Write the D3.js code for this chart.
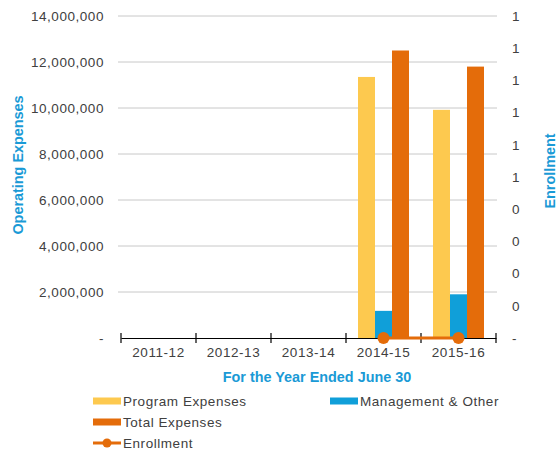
<!DOCTYPE html>
<html>
<head>
<meta charset="utf-8">
<script src="https://cdn.jsdelivr.net/npm/d3@7/dist/d3.min.js"></script>
<style>
  html, body { margin: 0; padding: 0; background: #fff; }
  svg { display: block; }
  text { font-family: "Liberation Sans", Arial, sans-serif; }
</style>
</head>
<body>
<div id="chart"></div>
<script>
// Fiscal years on the category axis
const years = ["2011-12", "2012-13", "2013-14", "2014-15", "2015-16"];
// Operating expense series (null = no data reported)
const programExpenses = [null, null, null, 11350000, 9920000];
const managementOther = [null, null, null, 1180000, 1900000];
const totalExpenses   = [null, null, null, 12500000, 11800000];
// Enrollment (right axis)
const enrollment = [null, null, null, 0, 0];
// Axis ticks
const leftTicks = [0, 2000000, 4000000, 6000000, 8000000, 10000000, 12000000, 14000000];
const rightTicks = [0, 0.1, 0.2, 0.3, 0.4, 0.5, 0.6, 0.7, 0.8, 0.9, 1.0];

const seriesNames = ["Program Expenses", "Management & Other", "Total Expenses"];
const seriesColors = ["#fdc94f", "#109fd9", "#e46c0a"];
const lineColor = "#e46c0a";
const titleColor = "#1a9ad6";
const textColor = "#404040";
const labelFont = "Liberation Sans, Arial, sans-serif";
const labelSize = 13.5;
const labelSpacing = "0.55px";

const W = 557, H = 455;
const plot = { left: 121, right: 496, top: 16, bottom: 338 };

const svg = d3.select("#chart").append("svg").attr("width", W).attr("height", H);

const x = d3.scaleBand().domain(years).range([plot.left, plot.right]).paddingInner(0).paddingOuter(0);
const xInner = d3.scaleBand().domain(seriesNames).range([12, x.bandwidth() - 12]).paddingInner(0);
const y = d3.scaleLinear().domain([0, 14000000]).range([plot.bottom, plot.top]);
const y2 = d3.scaleLinear().domain([0, 1]).range([plot.bottom, plot.top]);

function styleLabels(sel) {
  sel.attr("font-size", labelSize).attr("fill", textColor)
    .attr("font-family", labelFont).attr("letter-spacing", labelSpacing);
}

// Horizontal gridlines
svg.append("g")
  .selectAll("line")
  .data(leftTicks.filter(d => d > 0))
  .join("line")
  .attr("x1", 118).attr("x2", 497)
  .attr("y1", d => y(d)).attr("y2", d => y(d))
  .attr("stroke", "#c8c8c8").attr("stroke-width", 1);

// Left axis labels
const fmt = d3.format(",");
const leftAxis = d3.axisLeft(y).tickValues(leftTicks).tickSize(0).tickPadding(0)
  .tickFormat(d => d === 0 ? "-" : fmt(d));
const gL = svg.append("g").attr("transform", "translate(104,0)").call(leftAxis);
gL.select(".domain").remove();
styleLabels(gL.selectAll("text"));

// Right axis labels (enrollment)
const rightAxis = d3.axisRight(y2).tickValues(rightTicks).tickSize(0).tickPadding(0)
  .tickFormat(d => d === 0 ? "-" : d3.format(".0f")(d));
const gR = svg.append("g").attr("transform", "translate(512,0)").call(rightAxis);
gR.select(".domain").remove();
styleLabels(gR.selectAll("text"));

// Bars
const seriesData = [programExpenses, managementOther, totalExpenses];
seriesData.forEach((vals, si) => {
  svg.append("g")
    .selectAll("rect")
    .data(years.map((yr, i) => ({ yr, v: vals[i] })).filter(d => d.v != null))
    .join("rect")
    .attr("x", d => x(d.yr) + xInner(seriesNames[si]))
    .attr("width", xInner.bandwidth())
    .attr("y", d => y(d.v))
    .attr("height", d => y(0) - y(d.v))
    .attr("fill", seriesColors[si]);
});

// Category axis
const xAxis = d3.axisBottom(x).tickSize(0).tickPadding(9);
const gX = svg.append("g").attr("transform", `translate(0,${plot.bottom})`).call(xAxis);
gX.select(".domain").attr("stroke", "#000").attr("stroke-width", 1.2);
styleLabels(gX.selectAll("text"));
// Tick marks on category boundaries
const bounds = years.map(d => x(d)).concat([x(years[years.length - 1]) + x.bandwidth()]);
gX.selectAll(".bound").data(bounds).join("line").attr("class", "bound")
  .attr("x1", d => d).attr("x2", d => d).attr("y1", -5).attr("y2", 5)
  .attr("stroke", "#000").attr("stroke-width", 1.2);

// Enrollment line
const enrollPts = years.map((yr, i) => ({ yr, v: enrollment[i] })).filter(d => d.v != null);
const line = d3.line().x(d => x(d.yr) + x.bandwidth() / 2).y(d => y2(d.v));
svg.append("path").datum(enrollPts).attr("d", line)
  .attr("fill", "none").attr("stroke", lineColor).attr("stroke-width", 3);
svg.append("g").selectAll("circle").data(enrollPts).join("circle")
  .attr("cx", d => x(d.yr) + x.bandwidth() / 2).attr("cy", d => y2(d.v))
  .attr("r", 6).attr("fill", lineColor);

// Axis titles
const titleFont = "Lato, 'Open Sans', sans-serif";
svg.append("text").attr("x", 317).attr("y", 382).attr("text-anchor", "middle")
  .attr("font-family", titleFont).attr("font-weight", "bold").attr("font-size", 14.4)
  .attr("fill", titleColor).text("For the Year Ended June 30");
svg.append("text").attr("transform", "translate(23,165) rotate(-90)").attr("text-anchor", "middle")
  .attr("font-family", titleFont).attr("font-weight", "bold").attr("font-size", 14.4)
  .attr("fill", titleColor).text("Operating Expenses");
svg.append("text").attr("transform", "translate(555,171) rotate(-90)").attr("text-anchor", "middle")
  .attr("font-family", titleFont).attr("font-weight", "bold").attr("font-size", 14.4)
  .attr("fill", titleColor).text("Enrollment");

// Legend
const legend = svg.append("g");
const legendItems = [
  { name: "Program Expenses", color: seriesColors[0], x: 93, y: 401, type: "bar" },
  { name: "Management & Other", color: seriesColors[1], x: 330, y: 401, type: "bar" },
  { name: "Total Expenses", color: seriesColors[2], x: 93, y: 422, type: "bar" },
  { name: "Enrollment", color: lineColor, x: 93, y: 443, type: "line" }
];
legendItems.forEach(it => {
  const g = legend.append("g").attr("transform", `translate(${it.x},${it.y})`);
  if (it.type === "bar") {
    g.append("rect").attr("x", 0).attr("y", -3.5).attr("width", 28).attr("height", 7).attr("fill", it.color);
  } else {
    g.append("line").attr("x1", 0).attr("x2", 28).attr("y1", 0).attr("y2", 0)
      .attr("stroke", it.color).attr("stroke-width", 3);
    g.append("circle").attr("cx", 14).attr("cy", 0).attr("r", 4.5).attr("fill", it.color);
  }
  const t = g.append("text").attr("x", 30).attr("y", 0).attr("dy", "0.36em").text(it.name);
  styleLabels(t);
});
</script>
</body>
</html>
